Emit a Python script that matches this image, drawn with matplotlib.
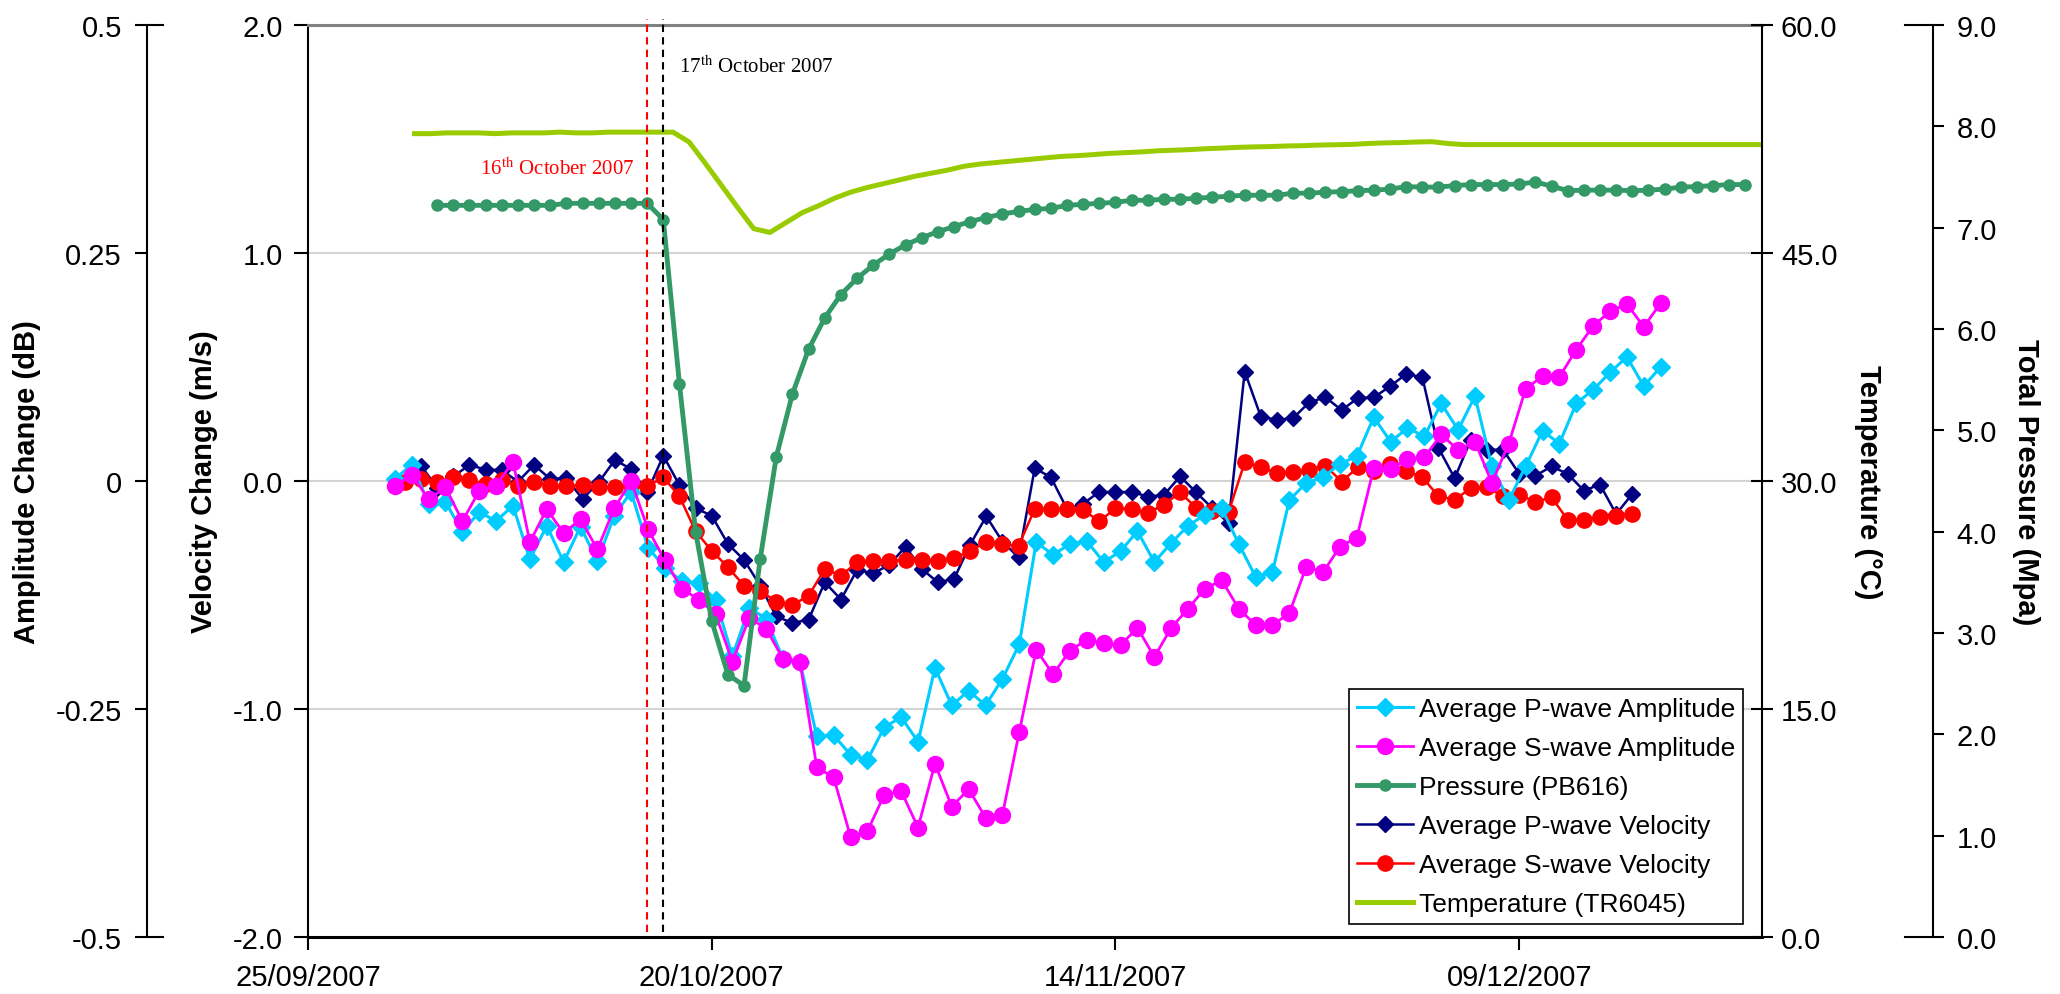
import datetime as dt
import matplotlib
matplotlib.use('Agg')
import matplotlib.pyplot as plt

plt.rcParams['font.family'] = ['Liberation Sans', 'DejaVu Sans']
plt.rcParams['mathtext.fontset'] = 'stix'

start = dt.datetime(2007, 9, 25)
end_day = 90
tick_dates = ['25/09/2007', '20/10/2007', '14/11/2007', '09/12/2007']
event_dates = ['16/10/2007', '17/10/2007']

# amplitude change (dB), readings roughly every 1.045 days
amp_first_day = 5.38
amp_step = 1.045
p_amp = [0.002, 0.018, -0.025, -0.023, -0.056, -0.034, -0.044, -0.027, -0.086, -0.049,
         -0.089, -0.05, -0.088, -0.038, -0.012, -0.073, -0.095, -0.11, -0.112, -0.13,
         -0.192, -0.139, -0.151, -0.195, -0.198, -0.28, -0.279, -0.3, -0.306, -0.27,
         -0.259, -0.286, -0.205, -0.246, -0.23, -0.246, -0.217, -0.179, -0.067, -0.081,
         -0.069, -0.066, -0.089, -0.077, -0.055, -0.089, -0.068, -0.049, -0.037, -0.03,
         -0.069, -0.105, -0.1, -0.021, -0.002, 0.004, 0.019, 0.027, 0.07, 0.043,
         0.058, 0.049, 0.085, 0.056, 0.093, 0.016, -0.021, 0.016, 0.055, 0.041,
         0.085, 0.1, 0.119, 0.136, 0.104, 0.125]
s_amp = [-0.006, 0.007, -0.02, -0.007, -0.044, -0.011, -0.005, 0.021, -0.067, -0.031,
         -0.057, -0.042, -0.075, -0.03, 0.0, -0.053, -0.087, -0.118, -0.13, -0.146,
         -0.198, -0.15, -0.162, -0.195, -0.198, -0.314, -0.325, -0.39, -0.384, -0.344,
         -0.34, -0.38, -0.31, -0.357, -0.338, -0.369, -0.366, -0.275, -0.185, -0.212,
         -0.186, -0.174, -0.178, -0.18, -0.161, -0.193, -0.161, -0.14, -0.118, -0.109,
         -0.14, -0.158, -0.158, -0.145, -0.094, -0.1, -0.072, -0.062, 0.014, 0.013,
         0.024, 0.026, 0.051, 0.034, 0.043, -0.002, 0.041, 0.101, 0.115, 0.114,
         0.144, 0.17, 0.186, 0.194, 0.169, 0.195]

# velocity change (m/s), daily
p_vel_first_day = 7
p_vel = [0.067, -0.03, 0.02, 0.07, 0.05, 0.048, -0.003, 0.07, 0.009, 0.012,
         -0.079, -0.006, 0.092, 0.053, -0.05, 0.111, -0.018, -0.12, -0.152, -0.276,
         -0.346, -0.459, -0.594, -0.623, -0.608, -0.444, -0.52, -0.39, -0.405, -0.368,
         -0.288, -0.386, -0.444, -0.43, -0.279, -0.155, -0.266, -0.335, 0.056, 0.016,
         -0.123, -0.10, -0.047, -0.05, -0.047, -0.069, -0.061, 0.02, -0.05, -0.12,
         -0.184, 0.48, 0.282, 0.268, 0.276, 0.345, 0.367, 0.311, 0.363, 0.367,
         0.415, 0.469, 0.455, 0.145, 0.012, 0.18, 0.137, 0.137, 0.031, 0.023,
         0.064, 0.031, -0.042, -0.016, -0.145, -0.057]
s_vel_first_day = 6
s_vel = [-0.003, 0.009, -0.006, 0.016, 0.004, -0.013, 0.006, -0.023, -0.003, -0.02,
         -0.023, -0.018, -0.028, -0.028, -0.02, -0.023, 0.016, -0.067, -0.221, -0.306,
         -0.378, -0.459, -0.481, -0.529, -0.544, -0.503, -0.386, -0.415, -0.357, -0.349,
         -0.349, -0.346, -0.346, -0.349, -0.338, -0.308, -0.266, -0.276, -0.284, -0.123,
         -0.123, -0.123, -0.127, -0.177, -0.12, -0.123, -0.14, -0.104, -0.05, -0.118,
         -0.13, -0.137, 0.082, 0.06, 0.034, 0.041, 0.05, 0.067, -0.003, 0.06,
         0.045, 0.075, 0.045, 0.016, -0.067, -0.082, -0.032, -0.028, -0.067, -0.061,
         -0.091, -0.072, -0.17, -0.17, -0.159, -0.152, -0.145]

# total pressure PB616 (MPa), daily
press_first_day = 8
pressure = [7.22, 7.22, 7.22, 7.22, 7.22, 7.22, 7.22, 7.22, 7.24, 7.24, 7.24, 7.24, 7.24, 7.24,
            7.08, 5.46, 4.0, 3.12, 2.59, 2.48, 3.73, 4.74, 5.36, 5.80,
            6.11, 6.34, 6.50, 6.63, 6.74, 6.83, 6.90, 6.96, 7.01, 7.06,
            7.10, 7.135, 7.16, 7.18, 7.19, 7.22, 7.23, 7.24, 7.25, 7.27,
            7.27, 7.28, 7.28, 7.29, 7.30, 7.31, 7.32, 7.32, 7.32, 7.34,
            7.34, 7.35, 7.355, 7.365, 7.37, 7.38, 7.405, 7.40, 7.40, 7.415,
            7.425, 7.425, 7.425, 7.43, 7.45, 7.41, 7.365, 7.37, 7.37, 7.37,
            7.365, 7.37, 7.38, 7.40, 7.405, 7.415, 7.425, 7.425]

# temperature TR6045 (C), daily
temp_first_day = 6.6
temperature = [52.85, 52.85, 52.9, 52.9, 52.9, 52.85, 52.9, 52.9, 52.9, 52.95,
               52.9, 52.9, 52.95, 52.95, 52.95, 52.95, 52.95,
               52.3, 50.9, 49.45, 48.0, 46.6, 46.35, 47.0, 47.65, 48.1, 48.6,
               49.0, 49.3, 49.55, 49.8, 50.05, 50.25, 50.45, 50.7, 50.85, 50.95,
               51.05, 51.15, 51.25, 51.35, 51.4, 51.47, 51.55, 51.6, 51.65, 51.72,
               51.76, 51.8, 51.86, 51.9, 51.95, 51.98, 52.0, 52.04, 52.06, 52.1,
               52.12, 52.14, 52.2, 52.24, 52.26, 52.3, 52.32, 52.2, 52.13,
               52.13, 52.13, 52.13, 52.13, 52.13, 52.13, 52.13, 52.13, 52.13, 52.13,
               52.13, 52.13, 52.13, 52.13, 52.13, 52.13, 52.13, 52.13, 52.13]

vel_ticks = [-2, -1, 0, 1, 2]
vel_labels = ['-2.0', '-1.0', '0.0', '1.0', '2.0']
amp_ticks = [-0.5, -0.25, 0, 0.25, 0.5]
amp_labels = ['-0.5', '-0.25', '0', '0.25', '0.5']
temp_ticks = [0, 15, 30, 45, 60]
temp_labels = ['0.0', '15.0', '30.0', '45.0', '60.0']
pres_ticks = [0, 1, 2, 3, 4, 5, 6, 7, 8, 9]
pres_labels = ['0.0', '1.0', '2.0', '3.0', '4.0', '5.0', '6.0', '7.0', '8.0', '9.0']


def days(first, n, step=1.0):
    return [start + dt.timedelta(days=first + i * step) for i in range(n)]


def to_date(s):
    return dt.datetime.strptime(s, '%d/%m/%Y')


fig = plt.figure(figsize=(20.6, 9.95), dpi=100)
ax = fig.add_axes([0.1495, 0.0573, 0.7056, 0.9166])
ax_amp = ax.twinx()
ax_temp = ax.twinx()
ax_pres = ax.twinx()

# main (velocity) axis
ax.set_xlim(start, start + dt.timedelta(days=end_day))
ax.set_ylim(-2, 2)
ax.set_xticks([to_date(s) for s in tick_dates])
ax.set_xticklabels(tick_dates)
ax.set_yticks(vel_ticks)
ax.set_yticklabels(vel_labels)
ax.yaxis.grid(True, color='#D4D4D4', lw=1.5)
ax.set_axisbelow(True)
ax.tick_params(axis='y', direction='out', length=10, width=1.5, pad=8, labelsize=21)
ax.tick_params(axis='x', direction='out', length=9, width=1.5, pad=10, labelsize=21)
ax.spines['top'].set_color('#808080')
ax.spines['top'].set_linewidth(2.2)
ax.spines['left'].set_linewidth(1.5)
ax.spines['bottom'].set_linewidth(2.2)
ax.spines['right'].set_visible(False)

l_pvel, = ax.plot(days(p_vel_first_day, len(p_vel)), p_vel, color='#000080', lw=1.8,
                  marker='D', ms=8, mec='#000080', label='Average P-wave Velocity')
l_svel, = ax.plot(days(s_vel_first_day, len(s_vel)), s_vel, color='#FF0000', lw=1.8,
                  marker='o', ms=11, mec='#FF0000', label='Average S-wave Velocity')

# amplitude axis, far left
ax_amp.set_ylim(-0.5, 0.5)
ax_amp.yaxis.tick_left()
for side in ['top', 'bottom', 'right']:
    ax_amp.spines[side].set_visible(False)
ax_amp.spines['left'].set_position(('axes', -0.1108))
ax_amp.spines['left'].set_linewidth(1.5)
ax_amp.set_yticks(amp_ticks)
ax_amp.set_yticklabels(amp_labels)
ax_amp.tick_params(axis='y', direction='out', length=9, width=1.5, pad=9, labelsize=21)
for yy in [0, 1]:
    ax_amp.plot([-0.1108, -0.1108 + 0.011], [yy, yy], transform=ax.transAxes,
                color='black', lw=1.5, clip_on=False)

l_pamp, = ax_amp.plot(days(amp_first_day, len(p_amp), amp_step), p_amp, color='#00CCFF',
                      lw=2.2, marker='D', ms=9, mec='#00CCFF', label='Average P-wave Amplitude')
l_samp, = ax_amp.plot(days(amp_first_day, len(s_amp), amp_step), s_amp, color='#FF00FF',
                      lw=2.0, marker='o', ms=11.5, mec='#FF00FF', label='Average S-wave Amplitude')

# temperature axis on the right frame
ax_temp.set_ylim(0, 60)
for side in ['top', 'bottom', 'left']:
    ax_temp.spines[side].set_visible(False)
ax_temp.spines['right'].set_linewidth(1.5)
ax_temp.set_yticks(temp_ticks)
ax_temp.set_yticklabels(temp_labels)
ax_temp.tick_params(axis='y', direction='inout', length=16, width=1.5, pad=6, labelsize=21)
l_temp, = ax_temp.plot(days(temp_first_day, len(temperature)), temperature, color='#99CC00',
                       lw=3.6, label='Temperature (TR6045)')

# pressure axis, far right
ax_pres.set_ylim(0, 9)
for side in ['top', 'bottom', 'left']:
    ax_pres.spines[side].set_visible(False)
ax_pres.spines['right'].set_position(('axes', 1.118))
ax_pres.spines['right'].set_linewidth(1.5)
ax_pres.set_yticks(pres_ticks)
ax_pres.set_yticklabels(pres_labels)
ax_pres.tick_params(axis='y', direction='out', length=8, width=1.5, pad=9, labelsize=21)
for yy in [0, 1]:
    ax_pres.plot([1.118 - 0.019, 1.118], [yy, yy], transform=ax.transAxes,
                 color='black', lw=1.5, clip_on=False)
l_pres, = ax_pres.plot(days(press_first_day, len(pressure)), pressure, color='#339966',
                       lw=3.5, marker='o', ms=8, mec='#339966', label='Pressure (PB616)')

# event markers
for s, c in zip(event_dates, ['#FF0000', 'black']):
    ax_pres.axvline(to_date(s), ymin=0.005, ymax=1.007, color=c, lw=1.5,
                    ls=(0, (3.5, 2.5)), clip_on=False)

fig.text(0.308, 0.830, '16$^{\\rm th}$ October 2007', color='#FF0000', ha='right', va='center',
         fontsize=15, family='Liberation Serif')
fig.text(0.3296, 0.9327, '17$^{\\rm th}$ October 2007', color='black', ha='left', va='center',
         fontsize=15, family='Liberation Serif')

# axis titles
fig.text(0.0129, 0.5156, 'Amplitude Change (dB)', rotation=90, ha='center', va='center',
         fontsize=21, fontweight='bold')
fig.text(0.0988, 0.5156, 'Velocity Change (m/s)', rotation=90, ha='center', va='center',
         fontsize=21, fontweight='bold')
fig.text(0.9066, 0.5156, 'Temperature (°C)', rotation=270, ha='center', va='center',
         fontsize=21, fontweight='bold')
fig.text(0.9835, 0.5156, 'Total Pressure (Mpa)', rotation=270, ha='center', va='center',
         fontsize=21, fontweight='bold')

handles = [l_pamp, l_samp, l_pres, l_pvel, l_svel, l_temp]
leg = ax_pres.legend(handles, [h.get_label() for h in handles], loc='lower right',
                     bbox_to_anchor=(0.9876, 0.0143), bbox_transform=ax.transAxes,
                     fontsize=19, frameon=True, fancybox=False, edgecolor='black',
                     framealpha=1, borderpad=0.3, labelspacing=0.57, handlelength=2.1,
                     handletextpad=0.25, borderaxespad=0, numpoints=1)
leg.get_frame().set_linewidth(1.2)
leg.set_zorder(10)

fig.savefig('out.png', dpi=100)
